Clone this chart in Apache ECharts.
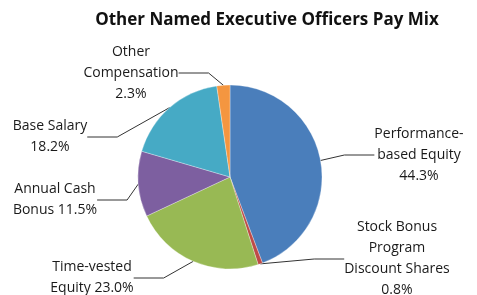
<!DOCTYPE html>
<html><head><meta charset="utf-8">
<script src="https://cdn.jsdelivr.net/npm/echarts@6/dist/echarts.min.js"></script>
<style>html,body{margin:0;padding:0;background:#fff}#c{width:477px;height:295px}</style>
</head><body><div id="c"></div>
<script>
const title = 'Other Named Executive Officers Pay Mix';
const categories = ['Performance-\nbased Equity', 'Stock Bonus\nProgram\nDiscount Shares', 'Time-vested\nEquity', 'Annual Cash\nBonus', 'Base Salary', 'Other\nCompensation'];
const labelJoin = ['\n', '\n', ' ', ' ', '\n', '\n'];
const values = [44.3, 0.8, 23.0, 11.5, 18.2, 2.3];
const colors = ['#4a7ebb', '#be4b48', '#98b954', '#7d5fa0', '#46aac5', '#f49640'];
const labelPos = [[419, 155], [397, 259], [92, 278], [55, 200], [50, 137], [131, 73]];

const chart = echarts.init(document.getElementById('c'));
chart.setOption({
  animation: false,
  title: {text: title, left: 262, top: 7, textAlign: 'center',
    textStyle: {fontFamily: 'Open Sans', fontWeight: 'bold', fontSize: 17, color: '#111'}},
  series: [{
    type: 'pie', center: [230, 177], radius: 92, startAngle: 90, clockwise: true,
    data: categories.map((c, i) => ({name: c, value: values[i], itemStyle: {color: colors[i]}})),
    itemStyle: {borderColor: 'rgba(255,255,255,0.6)', borderWidth: 0.5},
    label: {
      formatter: p => p.name + labelJoin[p.dataIndex] + values[p.dataIndex].toFixed(1) + '%',
      fontFamily: 'Open Sans', fontSize: 14, lineHeight: 21, color: '#1a1a1a', align: 'center',
      overflow: 'none'
    },
    labelLine: {show: true, lineStyle: {color: '#333', width: 1}},
    labelLayout: p => ({x: labelPos[p.dataIndex][0], y: labelPos[p.dataIndex][1], align: 'center', verticalAlign: 'middle'})
  }]
});
</script></body></html>
